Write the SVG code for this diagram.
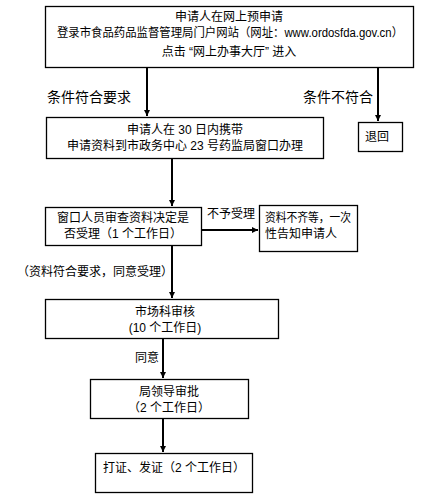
<svg xmlns="http://www.w3.org/2000/svg" width="442" height="504" viewBox="0 0 442 504">
<style>
.box{fill:#fff;stroke:#000;stroke-width:1.3}
text{font-family:"Liberation Sans","Noto Sans CJK SC",sans-serif;font-size:12px;fill:#000}
.lbl{font-size:14px}
.c{text-anchor:middle}
.ln{stroke:#000;stroke-width:2;fill:none}
</style>
<defs>
<marker id="ah" viewBox="0 0 6 6" refX="6" refY="3" markerWidth="6" markerHeight="6" markerUnits="userSpaceOnUse" orient="auto">
<path d="M0,0 L6,3 L0,6 Z" fill="#000"/>
</marker>
</defs>
<g id="connectors">
<line class="ln" x1="147" y1="68" x2="147" y2="116" marker-end="url(#ah)"/>
<line class="ln" x1="378" y1="68" x2="378" y2="121" marker-end="url(#ah)"/>
<line class="ln" x1="172" y1="159" x2="172" y2="206" marker-end="url(#ah)"/>
<line class="ln" x1="201" y1="230" x2="258" y2="230" marker-end="url(#ah)"/>
<line class="ln" x1="172" y1="245" x2="172" y2="298" marker-end="url(#ah)"/>
<line class="ln" x1="163" y1="338" x2="163" y2="378" marker-end="url(#ah)"/>
<line class="ln" x1="163" y1="418" x2="163" y2="452" marker-end="url(#ah)"/>
<text class="lbl" x="47" y="102">条件符合要求</text>
<text class="lbl" x="303" y="102">条件不符合</text>
<text x="207" y="218">不予受理</text>
<text x="17" y="276">（资料符合要求，同意受理）</text>
<text x="135" y="362">同意</text>
</g>
<g id="n1">
<rect class="box" x="45.5" y="6.5" width="368" height="61"/>
<text class="c" x="229" y="21">申请人在网上预申请</text>
<text x="57" y="37" textLength="346" lengthAdjust="spacingAndGlyphs">登录市食品药品监督管理局门户网站（网址：www.ordosfda.gov.cn）</text>
<text class="c" x="229" y="56">点击 “网上办事大厅” 进入</text>
</g>
<g id="n2">
<rect class="box" x="46.5" y="117.5" width="277" height="41"/>
<text class="c" x="185" y="134">申请人在 30 日内携带</text>
<text class="c" x="185" y="150">申请资料到市政务中心 23 号药监局窗口办理</text>
</g>
<g id="n3">
<rect class="box" x="358.5" y="122.5" width="44" height="29"/>
<text x="365" y="141">退回</text>
</g>
<g id="n4">
<rect class="box" x="45.5" y="207.5" width="156" height="38"/>
<text class="c" x="123" y="222">窗口人员审查资料决定是</text>
<text class="c" x="123" y="238">否受理（1 个工作日）</text>
</g>
<g id="n5">
<rect class="box" x="259.5" y="205.5" width="98" height="46"/>
<text x="265" y="222" textLength="86" lengthAdjust="spacingAndGlyphs">资料不齐等，一次</text>
<text x="265" y="238">性告知申请人</text>
</g>
<g id="n6">
<rect class="box" x="45.5" y="299.5" width="233" height="39"/>
<text class="c" x="165" y="316">市场科审核</text>
<text class="c" x="165" y="332">(10 个工作日)</text>
</g>
<g id="n7">
<rect class="box" x="90.5" y="379.5" width="158" height="39"/>
<text class="c" x="169" y="396">局领导审批</text>
<text class="c" x="169" y="412">（2 个工作日）</text>
</g>
<g id="n8">
<rect class="box" x="95.5" y="453.5" width="157" height="39"/>
<text x="103" y="472">打证、发证（2 个工作日）</text>
</g>
</svg>
